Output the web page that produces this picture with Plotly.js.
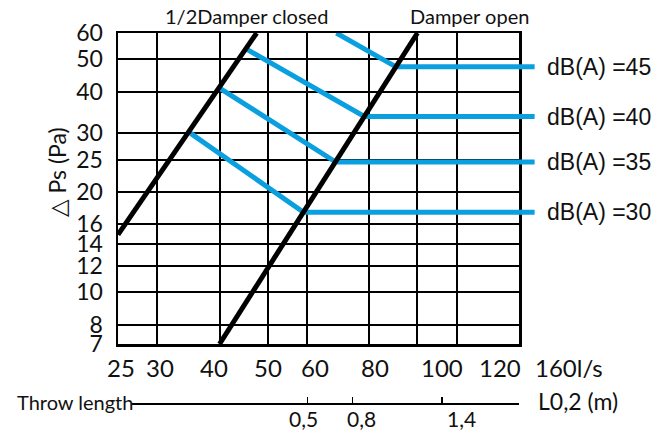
<!DOCTYPE html>
<html><head><meta charset="utf-8">
<script src="https://cdn.plot.ly/plotly-3.0.1.min.js"></script>
<style>html,body{margin:0;padding:0;background:#fff}</style>
</head><body><div id="chart" style="width:670px;height:434px"></div>
<script>
// ---- data ----
const xTicks = [25, 30, 40, 50, 60, 80, 100, 120, 160];
const xTickText = ['25', '30', '40', '50', '60', '80', '100', '120', '160l/s'];
const yTicks = [7, 8, 10, 12, 14, 16, 20, 25, 30, 40, 50, 60];
const yTickText = ['7', '8', '10', '12', '14', '16', '20', '25', '30', '40', '50', '60'];

const halfClosedFlow = [25, 47.5];
const halfClosedPs = [14.9, 60];
const openFlow = [40, 100];
const openPs = [7, 60];

const soundLabels = ['dB(A) =45', 'dB(A) =40', 'dB(A) =35', 'dB(A) =30'];
const db45Flow = [68.7, 90.5, 172];
const db45Ps = [60, 47.5, 47.5];
const db40Flow = [45.5, 78.2, 172];
const db40Ps = [53.5, 33.7, 33.7];
const db35Flow = [40, 68.5, 172];
const db35Ps = [41, 24.6, 24.6];
const db30Flow = [35, 59, 172];
const db30Ps = [30, 17.4, 17.4];

const throwFlow = [60, 74, 112];
const throwText = ['0,5', '0,8', '1,4'];

// ---- styling / geometry ----
const xLabelShift = [3, 3, -6, 0, 8, 6, 25, 43, 50];
const throwLabelShift = [-4, 9, 20];
const L = 118, R = 540, T = 33, B = 414;
const plotRight = 519, plotBottom = 344;
const pw = R - L, ph = B - T;
const px = v => (v - L) / pw;
const py = v => (B - v) / ph;
const lg = Math.log10;
const xr0 = lg(25), xr1 = lg(160);
const ppd = (plotRight - L) / (xr1 - xr0);
const yRange = [lg(7), lg(60)];
const yDom = [py(plotBottom), 1];
const xDomEnd = px(plotRight);

const BLUE = '#0aa0e0';
const BLACK = '#000000';
const TXT = '#111111';
const LATO = 'Lato, "DejaVu Sans", sans-serif';

const dbFlows = [db45Flow, db40Flow, db35Flow, db30Flow];
const dbPs = [db45Ps, db40Ps, db35Ps, db30Ps];

const traces = [];
// dummy trace to anchor main subplot
traces.push({x: xTicks, y: xTicks.map(() => null), xaxis: 'x', yaxis: 'y', mode: 'none', showlegend: false, hoverinfo: 'skip'});
// blue sound level lines (wide subplot so they extend to the labels)
dbFlows.forEach((f, i) => {
  traces.push({x: f, y: dbPs[i], xaxis: 'x2', yaxis: 'y2', mode: 'lines', name: soundLabels[i],
    line: {color: BLUE, width: 5}, showlegend: false, hoverinfo: 'skip'});
});
// black damper lines
traces.push({x: halfClosedFlow, y: halfClosedPs, xaxis: 'x2', yaxis: 'y2', mode: 'lines', name: '1/2 Damper closed',
  line: {color: BLACK, width: 5}, showlegend: false, hoverinfo: 'skip'});
traces.push({x: openFlow, y: openPs, xaxis: 'x2', yaxis: 'y2', mode: 'lines', name: 'Damper open',
  line: {color: BLACK, width: 5}, showlegend: false, hoverinfo: 'skip'});
// dummy trace for throw-length axis
traces.push({x: throwFlow, y: throwFlow.map(() => null), xaxis: 'x3', yaxis: 'y2', mode: 'none', showlegend: false, hoverinfo: 'skip'});

const annotations = [];
xTicks.forEach((v, i) => {
  annotations.push({text: xTickText[i], x: lg(v), xref: 'x', y: py(367), yref: 'paper',
    xanchor: 'center', yanchor: 'middle', xshift: xLabelShift[i], showarrow: false,
    font: {family: LATO, size: 24, color: TXT}});
});
throwFlow.forEach((v, i) => {
  annotations.push({text: throwText[i], x: lg(v), xref: 'x3', y: py(419), yref: 'paper',
    xanchor: 'center', yanchor: 'middle', xshift: throwLabelShift[i], showarrow: false,
    font: {family: LATO, size: 21, color: TXT}});
});
dbPs.forEach((p, i) => {
  annotations.push({text: soundLabels[i], x: px(545), xref: 'paper', y: lg(p[2]), yref: 'y',
    xanchor: 'left', yanchor: 'middle', showarrow: false,
    font: {family: '"Liberation Sans", Arial, sans-serif', size: 23, color: TXT}});
});
annotations.push({text: '1/2Damper closed', x: px(163), xref: 'paper', y: py(16), yref: 'paper',
  xanchor: 'left', yanchor: 'middle', showarrow: false, font: {family: LATO, size: 20, color: TXT}});
annotations.push({text: 'Damper open', x: px(408), xref: 'paper', y: py(16), yref: 'paper',
  xanchor: 'left', yanchor: 'middle', showarrow: false, font: {family: LATO, size: 20, color: TXT}});
annotations.push({text: 'Throw length', x: px(15), xref: 'paper', y: py(402), yref: 'paper',
  xanchor: 'left', yanchor: 'middle', showarrow: false, font: {family: LATO, size: 20, color: TXT}});
annotations.push({text: 'L0,2 (m)', x: px(536), xref: 'paper', y: py(401), yref: 'paper',
  xanchor: 'left', yanchor: 'middle', showarrow: false, font: {family: LATO, size: 23, color: TXT}});
annotations.push({text: '△ Ps (Pa)', x: px(57), xref: 'paper', y: py(172), yref: 'paper', textangle: -90,
  xanchor: 'center', yanchor: 'middle', showarrow: false, font: {family: LATO, size: 23, color: TXT}});

const layout = {
  width: 670, height: 434,
  margin: {l: L, r: 670 - R, t: T, b: 434 - B, pad: 0},
  paper_bgcolor: '#ffffff', plot_bgcolor: 'rgba(0,0,0,0)',
  showlegend: false, hovermode: false,
  xaxis: {type: 'log', range: [xr0, xr1], domain: [0, xDomEnd], anchor: 'y',
    tickvals: xTicks, ticktext: xTickText, showticklabels: false, ticks: '',
    showgrid: true, gridcolor: BLACK, gridwidth: 2, zeroline: false,
    showline: true, linecolor: BLACK, linewidth: 2.5, mirror: true},
  yaxis: {type: 'log', range: yRange, domain: yDom, anchor: 'x',
    tickvals: yTicks, ticktext: yTickText, ticks: '', ticklabelstandoff: 8,
    tickfont: {family: LATO, size: 23, color: TXT},
    showgrid: true, gridcolor: BLACK, gridwidth: 2, zeroline: false,
    showline: true, linecolor: BLACK, linewidth: 2.5, mirror: true},
  xaxis2: {type: 'log', range: [xr0, xr0 + pw / ppd], domain: [0, 1], anchor: 'y2',
    visible: false, showgrid: false, zeroline: false},
  yaxis2: {type: 'log', range: yRange, domain: yDom, anchor: 'x2',
    visible: false, showgrid: false, zeroline: false},
  xaxis3: {type: 'log', range: [xr0 + 14 / ppd, xr1], domain: [px(132), xDomEnd], anchor: 'free',
    position: py(403), side: 'bottom',
    tickvals: throwFlow, showticklabels: false, ticks: 'inside', ticklen: 6, tickwidth: 1.2, tickcolor: BLACK,
    showgrid: false, zeroline: false, showline: true, linecolor: BLACK, linewidth: 1.5},
  annotations: annotations
};

Plotly.newPlot('chart', traces, layout, {displayModeBar: false, staticPlot: true});
</script>
</body></html>
